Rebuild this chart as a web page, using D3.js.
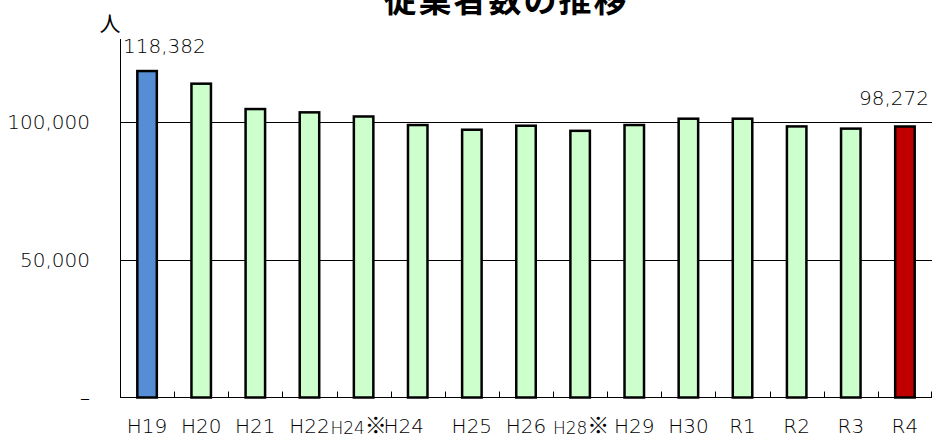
<!DOCTYPE html>
<html><head><meta charset="utf-8">
<script src="https://cdn.jsdelivr.net/npm/d3@7"></script>
<style>
body{margin:0;background:#fff;}
svg{display:block;}
text{font-family:"DejaVu Sans",sans-serif;fill:#000;}
</style></head>
<body>
<svg id="chart" width="932" height="437"></svg>
<script>
const categories = ["H19","H20","H21","H22","H24※","H24","H25","H26","H28※","H29","H30","R1","R2","R3","R4"];
const values = [118382,113800,104600,103400,101900,98800,97100,98550,96700,98800,101100,101100,98300,97500,98272];
const barColors = ["#558ed5","#ccffcc","#ccffcc","#ccffcc","#ccffcc","#ccffcc","#ccffcc","#ccffcc","#ccffcc","#ccffcc","#ccffcc","#ccffcc","#ccffcc","#ccffcc","#c00000"];
const yTicks = [0,50000,100000];
const yTickLabels = ["–","50,000","100,000"];
const title = "従業者数の推移";
const yUnit = "人";

(function(){
const svg = d3.select("#chart");
const pLeft = 120, pRight = 932, pTop = 39, pBottom = 397.5;

const x = d3.scaleBand().domain(categories).range([pLeft, pRight]).padding(0);
const y = d3.scaleLinear().domain([0,130000]).range([pBottom, pTop]);

// gridlines
svg.append("g").selectAll("line").data(yTicks.filter(d=>d>0)).join("line")
  .attr("x1", pLeft).attr("x2", pRight)
  .attr("y1", d=>Math.round(y(d))+0.5).attr("y2", d=>Math.round(y(d))+0.5)
  .attr("stroke","#000").attr("stroke-width",1);

// y tick labels
svg.append("g").selectAll("text").data(yTicks).join("text")
  .attr("x", 90).attr("y", d=>y(d)+7)
  .attr("text-anchor","end").attr("font-size",20).attr("font-weight",300)
  .text((d,i)=>yTickLabels[i]);

// bars
const barW = 19.5;
svg.append("g").selectAll("rect").data(values).join("rect")
  .attr("x",(d,i)=>x(categories[i]) + x.bandwidth()/2 - barW/2)
  .attr("y", d=>y(d))
  .attr("width", barW)
  .attr("height", d=>pBottom - y(d))
  .attr("fill",(d,i)=>barColors[i])
  .attr("stroke","#000").attr("stroke-width",2.5);

// axes lines
svg.append("line").attr("x1",pLeft+0.5).attr("x2",pLeft+0.5).attr("y1",pTop).attr("y2",pBottom)
  .attr("stroke","#000").attr("stroke-width",1);
svg.append("line").attr("x1",pLeft).attr("x2",pRight).attr("y1",pBottom).attr("y2",pBottom)
  .attr("stroke","#000").attr("stroke-width",1.2);

// x ticks at category boundaries (inside)
const bounds = categories.slice(1).map(c=>x(c)).concat([pRight-1]);
svg.append("g").selectAll("line").data(bounds).join("line")
  .attr("x1",d=>Math.round(d)+0.5).attr("x2",d=>Math.round(d)+0.5)
  .attr("y1",pBottom-6).attr("y2",pBottom)
  .attr("stroke","#000").attr("stroke-width",1);

// x labels
const xl = svg.append("g");
categories.forEach((c,i)=>{
  const cx = x(c) + x.bandwidth()/2;
  if (c.endsWith("※")) {
    const dx = (c === "H24※") ? -5 : 1;
    const t = xl.append("text").attr("x", cx + dx).attr("y", 434)
      .attr("text-anchor","middle").attr("font-size",20).attr("font-weight",300);
    t.append("tspan").attr("font-size",17).text(c.slice(0,-1));
    t.append("tspan").style("font-family","'Noto Sans CJK JP'").attr("font-size",22).attr("dy",-1).text("※");
  } else {
    const dx = (c === "H24") ? -14 : 0;
    xl.append("text").attr("x", cx + dx).attr("y", 433)
      .attr("text-anchor","middle").attr("font-size",20).attr("font-weight",300).text(c);
  }
});

// data labels for first and last
svg.append("text").attr("x",123).attr("y",53).attr("font-size",20).attr("font-weight",300)
  .text(d3.format(",")(values[0]));
svg.append("text").attr("x",929).attr("y",105).attr("text-anchor","end").attr("font-size",20).attr("font-weight",300)
  .text(d3.format(",")(values[values.length-1]));

// unit
svg.append("text").attr("x",110).attr("y",31).attr("text-anchor","middle")
  .style("font-family","'Noto Sans CJK JP'").attr("font-size",21).text(yUnit);

// title
svg.append("text").attr("x",506).attr("y",12).attr("text-anchor","middle")
  .style("font-family","'Noto Sans CJK JP'").attr("font-weight",700).attr("font-size",33)
  .attr("letter-spacing",2).text(title);
})();
</script>
</body></html>
